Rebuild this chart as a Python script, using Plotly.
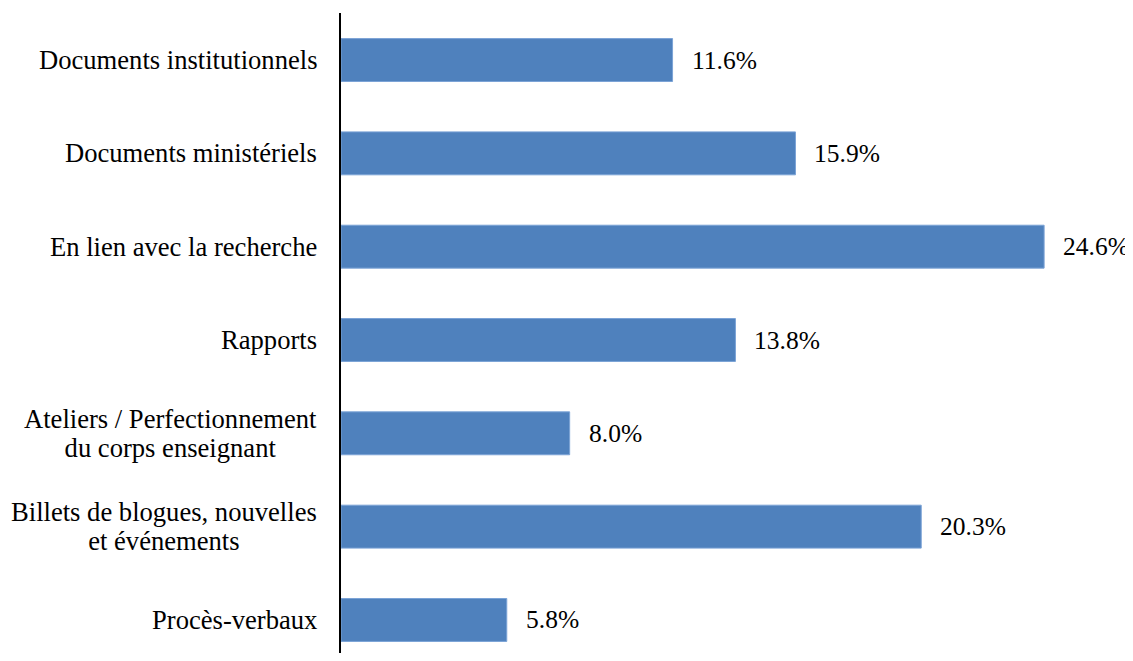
import plotly.graph_objects as go

categories = [
    "Documents institutionnels",
    "Documents ministériels",
    "En lien avec la recherche",
    "Rapports",
    "Ateliers / Perfectionnement<br>du corps enseignant",
    "Billets de blogues, nouvelles<br>et événements",
    "Procès-verbaux",
]
values = [11.6, 15.9, 24.6, 13.8, 8.0, 20.3, 5.8]

FONT = "Liberation Serif"
fig = go.Figure()
fig.add_trace(go.Bar(
    x=values, y=categories, orientation="h",
    marker=dict(color="#4F81BD", line=dict(color="#7BA3D6", width=1)),
    width=0.46, hoverinfo="skip",
))


def big(txt, px):
    return "<br>".join(f'<span style="font-size:{px}px">{p}</span>' for p in txt.split("<br>"))


for c, v in zip(categories, values):
    fig.add_annotation(x=v, y=c, xref="x", yref="y", text=f"{v:.1f}%",
                       showarrow=False, xanchor="left", xshift=17,
                       font=dict(family=FONT, size=25.5, color="#000"))
    fig.add_annotation(x=0, y=c, xref="paper", yref="y", text=big(c, 26.6),
                       showarrow=False, xanchor="right", align="center", xshift=-22,
                       font=dict(family=FONT, size=22.3, color="#000"))

fig.update_layout(
    width=1125, height=645,
    margin=dict(l=333, r=28, t=5, b=0),
    paper_bgcolor="white", plot_bgcolor="white",
    showlegend=False,
    font=dict(family=FONT),
    xaxis=dict(range=[0, 26.73], showgrid=False, zeroline=False, showticklabels=False,
               showline=False, ticks=""),
    yaxis=dict(range=[6.354, -0.504], showgrid=False, zeroline=False, showticklabels=False,
               showline=True, linecolor="#000", linewidth=2, ticks=""),
)
fig.write_html("out.html")
